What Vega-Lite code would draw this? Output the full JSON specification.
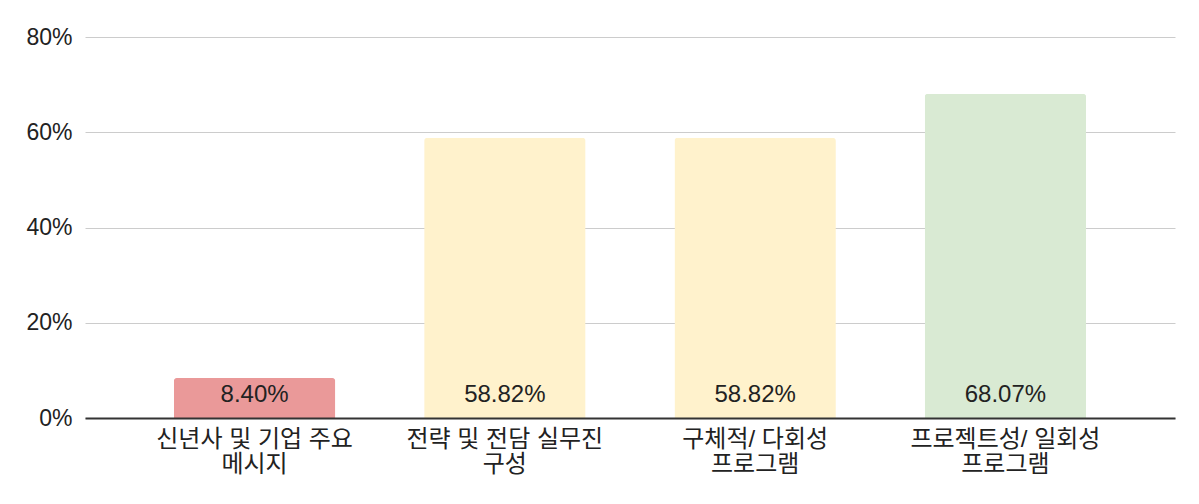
{
  "$schema": "https://vega.github.io/schema/vega-lite/v6.json",
  "width": 1090,
  "height": 381,
  "autosize": {"type": "none"},
  "padding": {"left": 85, "top": 37, "right": 24, "bottom": 86},
  "background": "#ffffff",
  "config": {
    "view": {"stroke": null},
    "font": "Liberation Sans, Noto Sans CJK KR, sans-serif"
  },
  "data": {
    "values": [
      {"category": "신년사 및 기업 주요 메시지", "value": 0.084, "label": "8.40%"},
      {"category": "전략 및 전담 실무진 구성", "value": 0.5882, "label": "58.82%"},
      {"category": "구체적/ 다회성 프로그램", "value": 0.5882, "label": "58.82%"},
      {"category": "프로젝트성/ 일회성 프로그램", "value": 0.6807, "label": "68.07%"}
    ]
  },
  "encoding": {
    "x": {
      "field": "category",
      "type": "nominal",
      "sort": null,
      "scale": {"paddingInner": 0.355, "paddingOuter": 0.355},
      "axis": {
        "title": null,
        "labelAngle": 0,
        "labelFontSize": 24,
        "labelColor": "#222222",
        "labelFont": "Liberation Sans, Noto Sans CJK KR, sans-serif",
        "labelPadding": 9,
        "labelLineHeight": 25,
        "labelLimit": 0,
        "labelExpr": "[substring(datum.label, 0, lastindexof(datum.label, ' ')), substring(datum.label, lastindexof(datum.label, ' ') + 1, length(datum.label))]",
        "ticks": false,
        "domainColor": "#333333",
        "domainWidth": 2,
        "grid": false,
        "zindex": 2
      }
    }
  },
  "layer": [
    {
      "mark": {"type": "bar", "cornerRadiusTopLeft": 3, "cornerRadiusTopRight": 3},
      "encoding": {
        "y": {
          "field": "value",
          "type": "quantitative",
          "scale": {"domain": [0, 0.8], "nice": false},
          "axis": {
            "title": null,
            "format": ".0%",
            "values": [0, 0.2, 0.4, 0.6, 0.8],
            "labelFontSize": 23,
            "labelColor": "#222222",
            "labelPadding": 13,
            "ticks": false,
            "domain": false,
            "gridColor": "#cccccc",
            "gridWidth": 1
          }
        },
        "color": {
          "field": "category",
          "type": "nominal",
          "legend": null,
          "scale": {
            "domain": ["신년사 및 기업 주요 메시지", "전략 및 전담 실무진 구성", "구체적/ 다회성 프로그램", "프로젝트성/ 일회성 프로그램"],
            "range": ["#EA9999", "#FFF2CC", "#FFF2CC", "#D9EAD3"]
          }
        }
      }
    },
    {
      "mark": {"type": "text", "fontSize": 24, "color": "#222222", "baseline": "middle", "dy": -23},
      "encoding": {
        "y": {"datum": 0, "type": "quantitative"},
        "text": {"field": "label"}
      }
    }
  ]
}
